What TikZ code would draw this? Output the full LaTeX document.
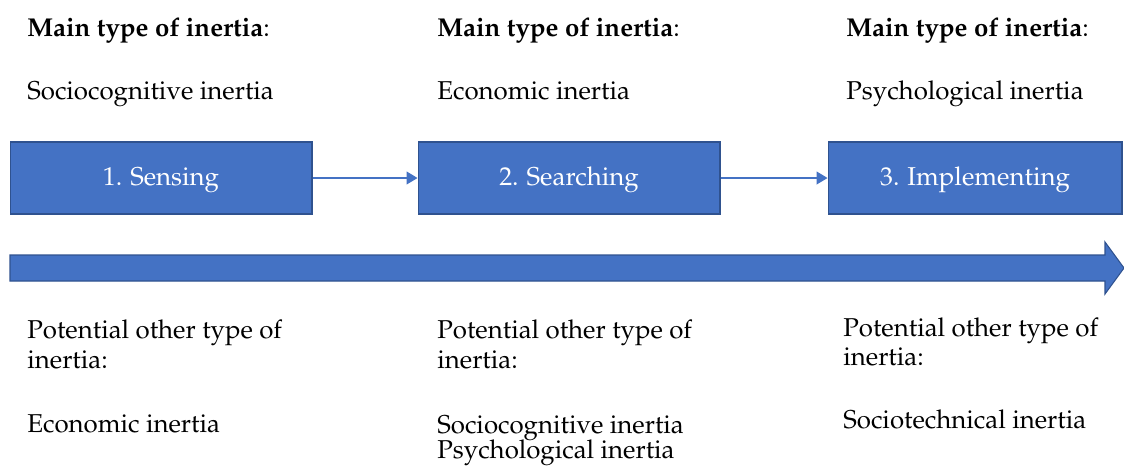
\documentclass[tikz,border=0pt]{standalone}
\usepackage[T1]{fontenc}
\usepackage{mathpazo}
\usetikzlibrary{arrows.meta, positioning}
\definecolor{stageBlue}{HTML}{4472C4}
\definecolor{stageEdge}{HTML}{2F528F}

\begin{document}
\begin{tikzpicture}[x=0.02cm, y=-0.02cm, font=\fontsize{14.7}{18}\selectfont,
  stagebox/.style={draw=stageEdge, line width=0.6pt, fill=stageBlue, text=white,
    minimum height=1.44cm, inner sep=0pt, text height=11.5pt, text depth=2.5pt},
  inertiatext/.style={anchor=base west, inner sep=0pt},
  flow/.style={stageBlue, line width=0.6pt, -{Triangle[length=0.22cm, width=0.26cm]}}]
  \useasboundingbox (0,0) rectangle (1124,468);
  % Stages
  \node[stagebox, minimum width=6.04cm] (sensing) at (161,178) {1. Sensing};
  \node[stagebox, minimum width=6.04cm] (searching) at (569,178) {2. Searching};
  \node[stagebox, minimum width=5.88cm] (implementing) at (975,178) {3. Implementing};
  \draw[flow] (sensing) -- (searching);
  \draw[flow] (searching) -- (implementing);
  % Time arrow
  \draw[stageEdge, line width=0.6pt, fill=stageBlue]
    (10,255) -- (1105,255) -- (1105,242) -- (1124,268) -- (1105,294)
    -- (1105,281) -- (10,281) -- cycle;
  % Main type of inertia
  \node[inertiatext] (mainA) at (27,36) {\textbf{Main type of inertia}:};
  \node[inertiatext] (mainB) at (437,36) {\textbf{Main type of inertia}:};
  \node[inertiatext] (mainC) at (846,36) {\textbf{Main type of inertia}:};
  \node[inertiatext] (kindA) at (27,99) {Sociocognitive inertia};
  \node[inertiatext] (kindB) at (437,99) {Economic inertia};
  \node[inertiatext] (kindC) at (846,99) {Psychological inertia};
  % Potential other types
  \node[inertiatext] (otherA) at (27,338) {Potential other type of};
  \node[inertiatext] (otherAb) at (27,368) {inertia:};
  \node[inertiatext] (otherB) at (437,338) {Potential other type of};
  \node[inertiatext] (otherBb) at (437,368) {inertia:};
  \node[inertiatext] (otherC) at (843,336) {Potential other type of};
  \node[inertiatext] (otherCb) at (843,365) {inertia:};
  \node[inertiatext] (extraA) at (27,432) {Economic inertia};
  \node[inertiatext] (extraB) at (437,433) {Sociocognitive inertia};
  \node[inertiatext] (extraBb) at (437,458) {Psychological inertia};
  \node[inertiatext] (extraC) at (843,428) {Sociotechnical inertia};
\end{tikzpicture}
\end{document}
